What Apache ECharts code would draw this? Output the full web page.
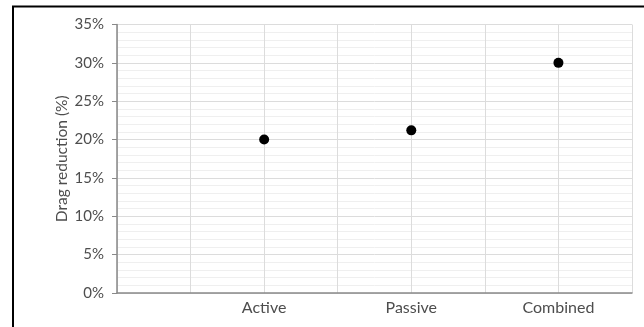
<!DOCTYPE html>
<html><head><meta charset="utf-8">
<script src="https://cdn.jsdelivr.net/npm/echarts@6/dist/echarts.min.js"></script>
<style>html,body{margin:0;padding:0;background:#fff}#c{width:644px;height:327px}</style>
</head><body><div id="c"></div>
<script>
const categories = ['Active', 'Passive', 'Combined'];
const positions = [1, 2, 3];
const dragReduction = [20.0, 21.2, 30.0];
const yTicks = [0, 5, 10, 15, 20, 25, 30, 35];

const chart = echarts.init(document.getElementById('c'), null, {renderer: 'canvas'});
const font = 'Lato';
chart.setOption({
  animation: false,
  grid: {left: 117, right: 12, top: 24.5, bottom: 34, containLabel: false},
  graphic: [{
    type: 'polyline', silent: true,
    shape: {points: [[13, 327], [13, 6.5], [644, 6.5]]},
    style: {stroke: '#000', lineWidth: 2, fill: null}
  }],
  xAxis: {
    type: 'value', min: 0, max: 3.5, interval: 0.5,
    axisLine: {show: true, lineStyle: {color: '#898989', width: 1.5}},
    axisTick: {show: false},
    splitLine: {show: true, lineStyle: {color: '#dcdcdc', width: 1}},
    axisLabel: {
      color: '#4d4d4d', fontFamily: font, fontSize: 16, margin: 7,
      showMinLabel: true, showMaxLabel: true,
      formatter: v => { const i = positions.indexOf(v); return i >= 0 ? categories[i] : ''; }
    }
  },
  yAxis: {
    type: 'value', min: yTicks[0], max: yTicks[yTicks.length - 1], interval: 5,
    name: 'Drag reduction (%)', nameLocation: 'middle', nameGap: 47, nameMoveOverlap: false,
    nameTextStyle: {color: '#4d4d4d', fontFamily: font, fontSize: 15.5},
    axisLine: {show: true, lineStyle: {color: '#898989', width: 1.5}},
    axisTick: {show: true, inside: false, length: 5, lineStyle: {color: '#898989'}},
    axisLabel: {color: '#4d4d4d', fontFamily: font, fontSize: 15, margin: 13, formatter: v => v + '%'},
    splitLine: {show: true, lineStyle: {color: '#dcdcdc', width: 1}},
    minorTick: {show: false, splitNumber: 5},
    minorSplitLine: {show: true, lineStyle: {color: '#efefef', width: 1}}
  },
  series: [{
    type: 'scatter',
    data: positions.map((p, i) => [p, dragReduction[i]]),
    symbol: 'circle', symbolSize: 10,
    itemStyle: {color: '#000', opacity: 1}
  }]
});
</script></body></html>
